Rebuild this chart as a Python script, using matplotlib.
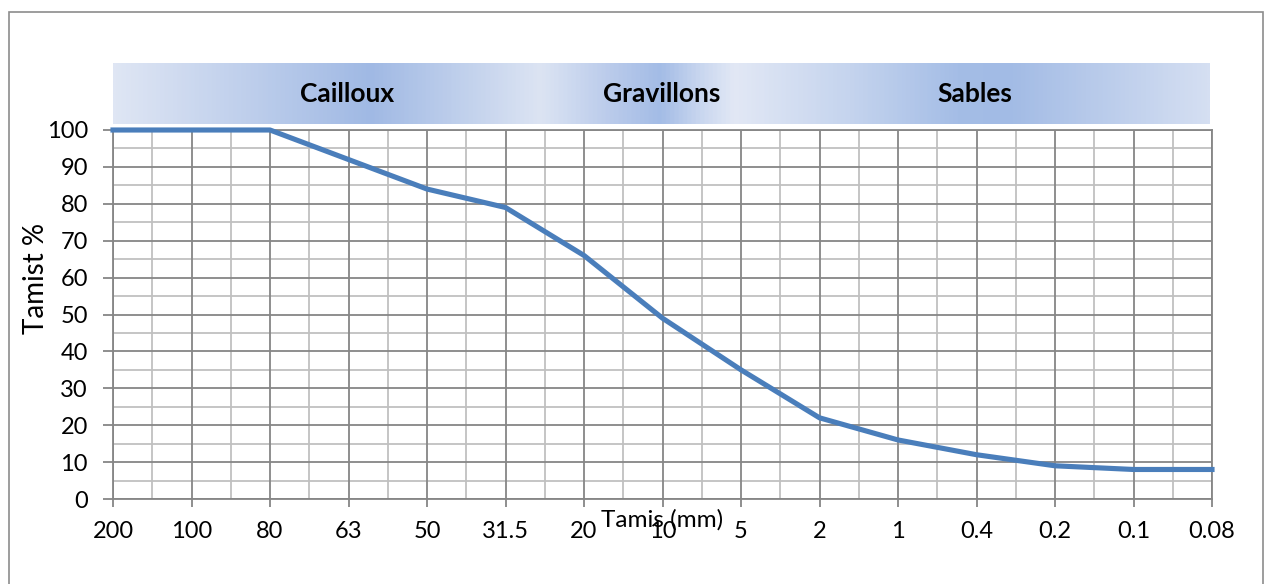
import numpy as np
import matplotlib
matplotlib.use("Agg")
import matplotlib.pyplot as plt
from matplotlib.colors import LinearSegmentedColormap
from matplotlib.patches import Rectangle

# ---- data ----
sieves = ["200", "100", "80", "63", "50", "31.5", "20", "10", "5", "2", "1", "0.4", "0.2", "0.1", "0.08"]
passing = [100, 100, 100, 92, 84, 79, 66, 49, 35, 22, 16, 12, 9, 8, 8]
zones = ["Cailloux", "Gravillons", "Sables"]
y_ticks = list(range(0, 101, 10))
xlabel = "Tamis (mm)"
ylabel = "Tamist %"

plt.rcParams['font.family'] = ['Lato', 'DejaVu Sans']

W, H = 1265, 584
fig = plt.figure(figsize=(W / 100, H / 100), dpi=100)

def fx(px):
    return px / W

def fy(py):
    return 1 - py / H

# outer border
fig.add_artist(Rectangle((fx(9), fy(600)), fx(1263) - fx(9), fy(12) - fy(600),
                         transform=fig.transFigure, fill=False, edgecolor="#8c8c8c",
                         linewidth=1.2, clip_on=False))

# main axes
L, R, T, B = 113, 1212, 130, 499
ax = fig.add_axes([fx(L), fy(B), fx(R) - fx(L), fy(T) - fy(B)])
n = len(sieves)
x = np.arange(n)
ax.set_xlim(0, n - 1)
ax.set_ylim(0, 100)

major_c = "#868686"
minor_c = "#c0c0c0"
# minor grid
for xv in np.arange(0.5, n - 1, 1.0):
    ax.axvline(xv, color=minor_c, lw=1.3, zorder=1)
for yv in np.arange(5, 100, 10):
    ax.axhline(yv, color=minor_c, lw=1.3, zorder=1)
# major grid
for xv in x:
    ax.axvline(xv, color=major_c, lw=1.3, zorder=2)
for yv in y_ticks:
    ax.axhline(yv, color=major_c, lw=1.3, zorder=2)

ax.plot(x, passing, color="#4a7ebb", lw=3.7, zorder=5, solid_joinstyle="round",
        clip_on=False)

for s in ax.spines.values():
    s.set_color(major_c)
    s.set_linewidth(1.3)

ax.set_xticks(x)
ax.set_xticklabels(sieves)
ax.set_yticks(y_ticks)
ax.tick_params(axis="x", length=6, width=1.3, color=major_c, pad=10, labelsize=17)
ax.tick_params(axis="y", length=7, width=1.3, color=major_c, pad=11, labelsize=17)

fig.text(fx(662), fy(520), xlabel, ha="center", va="center", fontsize=17.5)
fig.text(fx(36), fy(278), ylabel, ha="center", va="center", fontsize=20, rotation=90)

# header band with gradient
hax = fig.add_axes([fx(113), fy(124), fx(1210) - fx(113), fy(63) - fy(124)])
stops = [
    (0.000, "#dfe6f4"),
    (0.234, "#a0b9e4"),
    (0.389, "#dce4f3"),
    (0.453, "#bacbeb"),
    (0.499, "#a3bce6"),
    (0.535, "#c8d6ef"),
    (0.567, "#e2e8f5"),
    (0.672, "#c5d4ee"),
    (0.772, "#a4bde6"),
    (0.818, "#a2bbe5"),
    (1.000, "#d5dff2"),
]
cmap = LinearSegmentedColormap.from_list("band", stops)
grad = np.linspace(0, 1, 512)[None, :]
hax.imshow(grad, aspect="auto", cmap=cmap, extent=[0, 1, 0, 1])
hax.set_xlim(0, 1)
hax.set_ylim(0, 1)
hax.axis("off")
zone_pos = [(347 - 113) / 1097, (662 - 113) / 1097, (975 - 113) / 1097]
for name, xp in zip(zones, zone_pos):
    hax.text(xp, 0.5, name, ha="center", va="center", fontsize=19, fontweight="bold",
             color="black")

fig.savefig("out.png", dpi=100)
